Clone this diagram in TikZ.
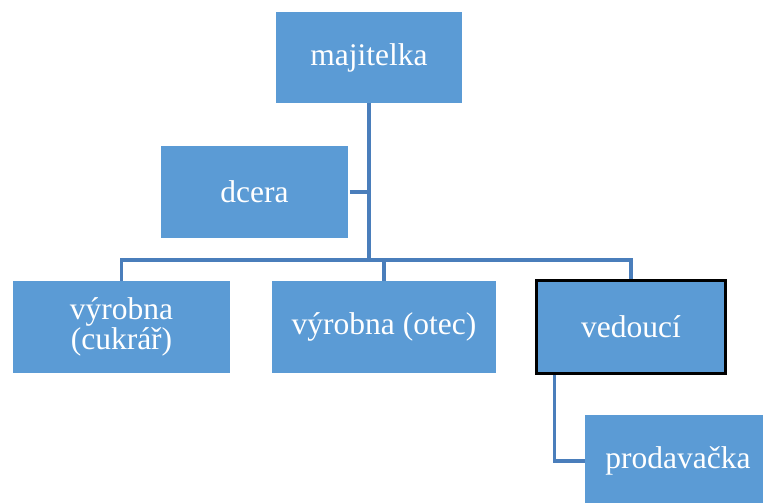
\documentclass[tikz,border=0pt]{standalone}
\usepackage{fontspec}
\setmainfont{Liberation Serif}
\definecolor{boxblue}{HTML}{5B9BD5}
\definecolor{lineblue}{HTML}{4A7EBB}
\begin{document}
\begin{tikzpicture}[x=0.025cm,y=-0.025cm,
	unit/.style={fill=boxblue,text=white,align=center,inner sep=0pt,
		minimum width=4.65cm,minimum height=2.28cm,
		font=\fontsize{22.4}{21.5}\selectfont},
	link/.style={draw=lineblue,line width=2.2pt}]
	\useasboundingbox (0,0) rectangle (763,502);
	\node[unit] (maj) at (369,57.5) {majitelka};
	\node[unit] (dcera) at (254.5,192) {dcera};
	\node[unit,minimum width=5.43cm,minimum height=2.3cm] (cuk) at (121.5,327) {výrobna\\(cukrář)};
	\node[unit,minimum width=5.6cm,minimum height=2.3cm] (otec) at (384,327) {výrobna (otec)};
	\node[unit,draw=black,line width=2pt,minimum width=4.72cm,minimum height=2.33cm] (ved) at (631,327) {vedoucí};
	\node[unit,minimum height=2.3cm] (prod) at (678,461) {prodavačka};
	\coordinate (hub) at (369,260);
	% connectors
	\draw[link] (maj.south) -- (hub);
	\draw[link] ([xshift=0.05cm]dcera.east) -- (dcera.east -| hub);
	\draw[link] (cuk.north) |- (hub);
	\draw[link] (hub) -| (ved.north);
	\draw[link] (otec.north) -- (otec.north |- hub);
	\draw[link] ([xshift=0.475cm]ved.south west) |- (prod.west);
\end{tikzpicture}
\end{document}
